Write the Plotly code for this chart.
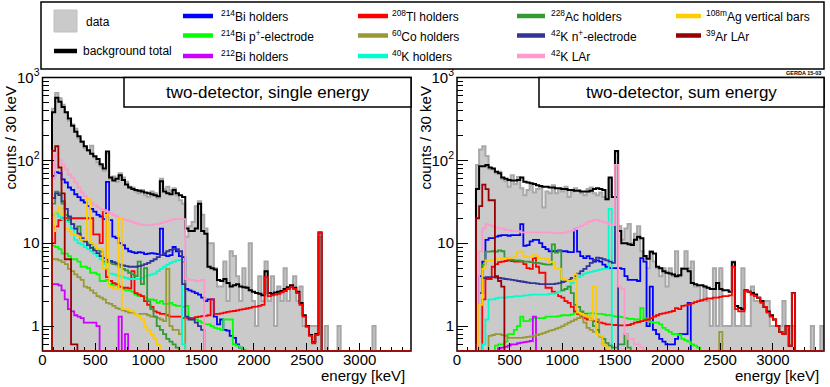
import math
import plotly.graph_objects as go

BIN = 30  # keV per bin

# ---------------- left panel: two-detector, single energy (first bin edge 90 keV)
L_START = 90
l_data = [420, 650, 560, 470, 380, 300, 270, 240, 185, 170,
          140, 130, 150, 108, 95, 85, 75, 120, 60, 64,
          55, 70, 62, 55, 48, 47, 42, 40, 44, 38,
          36, 42, 40, 35, 60, 45, 48, 43, 46, 38,
          33, 30, 12, 16, 18, 28, 32, 22, 15, 10,
          10, 5, 3, 3, 6, 2, 8, 7, 4, 2,
          5, 3, 10, 2, 1, 4, 2, 6, 2, 4,
          1, 3, 2, 5, 2, 3, 4, 2, 3, 1,
          1, 1, 1, 1, 12, 0, 1, 0, 0, 0,
          1, 0, 0, 0, 0, 0, 0, 0, 0, 0,
          0, 1]
l_total = [380, 570, 510, 440, 380, 320, 262, 222, 195, 168,
           148, 132, 120, 112, 104, 90, 80, 128, 62, 57,
           60, 66, 58, 51, 47, 45, 44, 43, 42, 41,
           40, 39, 38, 37, 56, 42, 40, 39, 44, 40,
           38, 36, 15, 14, 14, 15, 30, 14, 13, 5.2,
           5.0, 4.8, 3.6, 3.5, 3.7, 3.3, 3.0, 3.1, 3.2, 3.0,
           2.95, 2.9, 2.7, 2.6, 2.5, 2.45, 2.35, 4.6, 2.5, 2.45,
           2.55, 2.6, 2.65, 2.8, 2.95, 3.1, 2.9, 2.6, 1.9, 1.35,
           1.0, 0.78, 0.64, 0.8, 13.5]
l_bi214_holders = [65, 72, 70, 59, 54, 47, 44, 39, 36, 33,
                   31, 28, 26, 24, 22, 21, 19.5, 55, 19, 12,
                   11.5, 10, 9.5, 8.6, 8, 7.8, 7.6, 7.8, 7.7, 7.4,
                   7.5, 7.6, 7.5, 7.4, 15, 7.2, 7.0, 7.2, 9, 8,
                   7, 6.8, 2.8, 2.7, 2.6, 2.5, 2.4, 2.2, 2.0, 2.1,
                   2.1, 1.3, 1.05, 1.2, 0.9, 0.88, 0.76, 0.72, 0.6, 0.55,
                   0.5]
l_bi214_pplus = [9.3, 9.0, 8.5, 7.5, 7.5, 7.0, 6.4, 6.4, 6.0, 5.2,
                 5.2, 5.0, 4.4, 4.4, 4.2, 3.5, 3.5, 3.6, 3.2, 3.1,
                 3.1, 3.0, 2.8, 2.7, 2.7, 2.6, 2.4, 2.3, 2.3, 2.2,
                 2.1, 2.1, 2.05, 1.9, 2.0, 1.85, 1.85, 1.9, 1.8, 1.75,
                 1.75, 1.7, 1.75, 1.25, 1.2, 1.2, 1.15, 1.1, 1.05, 1.05,
                 1.0, 0.95, 0.93, 0.9, 1.2, 1.2, 1.2, 0.6, 0.58, 0.55,
                 0.52, 0.5]
l_bi212_holders = [3.2, 3.2, 3.1, 2.7, 2.1, 1.6, 1.5, 1.35, 1.3, 1.25,
                   1.1, 1.1, 1.1, 1.1, 1.0, 0, 0, 0, 0, 0,
                   0, 1.3, 0, 0.8]
l_tl208_holders = [10, 16, 19, 20, 20, 20, 20, 20, 20, 20,
                   20, 20, 20, 12.8, 12.8, 10, 25, 3.9, 3.5, 3.3,
                   3.2, 3.0, 2.9, 2.9, 2.85, 4.6, 2.5, 2.4, 2.3, 2.0,
                   1.8, 1.7, 1.5, 1.45, 1.4, 1.4, 1.35, 1.3, 1.3, 1.3,
                   1.3, 1.25, 1.25, 1.25, 1.25, 1.28, 1.3, 1.32, 1.33, 1.35,
                   2.1, 1.4, 1.4, 1.42, 1.45, 1.48, 1.5, 1.52, 1.55, 1.58,
                   1.6, 1.63, 1.66, 1.7, 1.72, 1.75, 1.8, 3.9, 2.3, 2.35,
                   2.4, 2.45, 2.55, 2.65, 2.8, 2.95, 2.8, 2.5, 1.8, 1.3,
                   0.98, 0.76, 0.62, 0.78, 13.5]
l_co60_holders = [6.4, 6.4, 6.2, 5.9, 5.6, 4.9, 4.6, 4.2, 3.9, 3.6,
                  3.0, 2.9, 2.7, 2.5, 2.3, 2.2, 2.1, 1.9, 1.85, 1.75,
                  1.65, 1.6, 1.55, 1.5, 1.45, 1.45, 1.4, 1.4, 1.4, 1.4,
                  1.35, 1.3, 1.3, 1.25, 1.2, 1.15, 4.9, 1.0, 0.9, 0.9,
                  0.8, 5.9, 0.5]
l_k40_holders = [22, 23, 21, 19.5, 19, 18, 15, 11, 10, 9.7,
                 9, 8.5, 8, 7.5, 7, 6.4, 5.6, 4.9, 4.3, 4.2,
                 4.1, 4.0, 3.9, 3.8, 3.7, 3.7, 3.7, 3.7, 3.8, 4.0,
                 4.1, 4.2, 4.3, 4.6, 4.9, 5.2, 5.5, 5.8, 6.0, 6.2,
                 6.3, 0.6]
l_ac228_holders = [30, 42, 40, 30, 22, 19, 17, 15, 16, 11,
                   10.5, 10, 9.7, 8.5, 8.2, 7.9, 6, 5.9, 5.8, 5.6,
                   5.5, 5.2, 4.9, 4.7, 4.4, 4.2, 4.0, 6.0, 3.2, 5.0,
                   2.0, 1.6, 1.3, 1.0, 0.9, 0.8, 0.7, 0.65, 0.6, 0.55,
                   0.5]
l_k42_nplus = [35, 40, 38, 32, 26, 21, 17, 15, 13, 11.5,
               10.5, 9.5, 8.8, 8.2, 7.6, 7.0, 6.6, 6.3, 6.1, 5.9,
               5.7, 5.5, 5.4, 5.3, 5.2, 5.2, 5.2, 5.3, 5.4, 5.6,
               5.8, 6.1, 6.4, 6.8, 7.2, 7.6, 8.0, 8.3, 8.5, 8.5,
               8.0, 3.2, 1.3, 1.2, 1.2, 1.1, 1.0, 0.9]
l_k42_lar = [60, 118, 102, 89, 78, 67, 62, 54, 47, 41,
             37, 34, 31, 29, 27, 26, 25, 24, 23, 22,
             21, 20, 19.5, 19, 18.5, 18, 17.5, 17, 16.5, 16.5,
             16.5, 16.5, 17, 17, 17.5, 18, 18.5, 19, 19.5, 19.5,
             19.5, 19.5, 3.7, 3.6, 3.6, 3.5, 3.5, 3.6]
l_ag108m_bars = [14, 24, 27, 22, 15, 14, 13, 12.5, 12, 11,
                 11, 34, 10, 9.5, 8.5, 8.5, 5, 22, 3.0, 2.9,
                 2.8, 20, 1.6, 1.6, 1.55, 1.5, 1.4, 1.3, 1.2, 1.0,
                 0.9, 0.8, 0.7, 0.6, 0.5]
l_ar39_lar = [130, 148, 82, 40, 6.4, 6.4, 0.6, 0.6]

# ---------------- right panel: two-detector, sum energy (first bin edge 180 keV)
R_START = 180
r_data = [88, 135, 148, 113, 78, 78, 70, 73, 59, 56,
          48, 66, 52, 63, 46, 38, 44, 50, 41, 45,
          47, 27, 42, 40, 50, 40, 45, 42, 48, 36,
          42, 46, 44, 40, 38, 45, 47, 40, 38, 41,
          36, 34, 60, 36, 125, 16, 11, 15, 17, 10,
          13, 16, 8, 7, 5, 8, 6, 5, 4, 5,
          3, 5, 4, 8, 4, 5, 8, 5, 6, 3,
          3, 2, 3, 2, 1, 5, 1, 5, 1, 1,
          1, 6, 1, 1, 5, 1, 1, 3, 2, 2,
          2, 2, 2, 1, 1, 1, 1, 2, 1, 1,
          1, 0, 0, 0, 0, 0, 1, 0, 0, 1]
r_total = [45, 85, 85, 88, 82, 80, 73, 70, 62, 60,
           58, 57, 57, 58, 62, 55, 54, 53, 52, 50,
           49, 48, 48, 47, 47, 46, 46, 45, 45, 44,
           44, 43, 43, 42, 42, 42, 43, 45, 46, 45,
           44, 34, 62, 36, 130, 14, 10, 10, 9.7, 9.5,
           11, 12, 11.5, 7, 6.5, 7.9, 7.5, 5.2, 5.0, 4.6,
           4.4, 4.3, 4.2, 4.0, 4.1, 4.9, 4.9, 4.6, 3.3, 3.2,
           3.1, 3.1, 3.0, 2.9, 2.8, 2.8, 3.3, 2.8, 2.7, 2.7,
           2.6, 5.9, 1.75, 1.65, 1.6, 2.7, 2.6, 2.5, 2.4, 2.2,
           2.0, 1.7, 1.5, 1.35, 1.2, 1.0, 0.85, 0.8, 1.0, 0.58,
           2.5]
r_bi214_holders = [0, 4.0, 6.0, 11, 11.5, 11.5, 12, 12.3, 12.5, 12.5,
                   12.3, 12.5, 12.5, 12.5, 17, 9.3, 9.5, 10.5, 11, 11,
                   10, 9, 8.5, 8, 8, 8, 8.2, 8.0, 8.0, 7.8,
                   7.8, 14.7, 7.9, 7.0, 6.6, 7, 6.5, 6.0, 6.2, 6.0,
                   5.5, 5.2, 5.0, 5.0, 5.0, 5.0, 4.9, 4.0, 3.6, 3.6,
                   3.6, 3.5, 6.6, 6.0, 1.0, 3.0, 0.9, 0.8, 0.7, 0.65,
                   0.6, 0.6, 0.6, 0.7, 0.8, 0.8, 0.8, 1.9]
r_bi214_pplus = [0, 0, 0, 0.3, 0.4, 0.5, 0.58, 0.6, 0.6, 0.65,
                 0.8, 0.8, 0.9, 1.0, 1.3, 1.15, 1.15, 1.2, 1.25, 1.25,
                 1.25, 1.25, 1.3, 1.3, 1.3, 1.3, 1.32, 1.35, 1.35, 1.35,
                 1.38, 1.45, 1.38, 1.4, 1.4, 1.42, 1.42, 1.42, 1.4, 1.4,
                 1.38, 1.35, 1.35, 1.32, 1.3, 1.3, 1.28, 1.25, 1.22, 1.22,
                 1.2, 1.2, 1.65, 1.25, 1.15, 1.12, 1.1, 1.1, 1.05, 0.95,
                 0.9, 0.85, 0.8, 0.8, 0.78, 0.7, 0.67, 0.65, 0.6, 0.58,
                 0.55]
r_bi212_holders = [0, 0, 0, 0, 0, 0, 0, 0.54, 0.55, 0.56,
                   0.58, 0.6, 0.6, 0.62, 0.63, 0.64, 0.65, 0.66, 1.3]
r_tl208_holders = [0, 0, 2.1, 3.7, 3.7, 5.2, 5.6, 5.9, 6.0, 6.1,
                   6.2, 6.1, 6.0, 6.0, 6.0, 5.6, 5.0, 4.9, 6.6, 5.2,
                   4.4, 4.4, 2.9, 2.9, 2.6, 2.5, 2.3, 2.2, 2.0, 1.9,
                   1.7, 1.5, 1.4, 1.3, 1.25, 1.2, 1.2, 1.15, 1.12, 1.1,
                   1.08, 1.05, 1.05, 1.03, 1.03, 1.02, 1.02, 1.02, 1.03, 1.06,
                   1.1, 1.12, 1.15, 1.18, 1.2, 1.25, 1.3, 1.35, 1.4, 1.42,
                   1.45, 1.48, 1.52, 1.65, 1.6, 1.75, 1.78, 1.82, 1.88, 1.95,
                   2.0, 2.05, 2.1, 2.15, 2.15, 2.2, 2.2, 2.25, 2.3, 2.3,
                   2.35, 5.2, 1.6, 1.5, 1.5, 2.7, 2.6, 2.4, 2.3, 2.2,
                   1.9, 1.7, 1.45, 1.3, 1.2, 1.0, 0.85, 0.8, 1.0, 0.58,
                   2.5]
r_co60_holders = [0, 0, 0, 0.5, 0.76, 0.78, 0.8, 0.8, 0.78, 0.76,
                  0.72, 0.72, 0.72, 0.72, 0.72, 0.73, 0.74, 0.75, 0.76, 0.78,
                  0.8, 0.82, 0.85, 0.88, 0.9, 0.93, 0.96, 1.0, 1.05, 1.1,
                  1.15, 1.2, 1.25, 1.45, 1.1, 0.95, 0.9, 0.85, 1.2, 0.75,
                  0.6, 0, 0, 0, 0, 0, 0, 0, 0, 0,
                  0, 0, 0, 0, 0, 0, 0, 0, 0, 0,
                  0, 0, 0, 0, 0, 0, 0, 0, 0, 0,
                  0, 0, 0, 0, 0, 0, 0, 0.85]
r_k40_holders = [0, 0, 0.6, 1.2, 2.1, 2.1, 2.15, 2.2, 2.2, 2.2,
                 2.25, 2.25, 2.3, 2.3, 2.3, 2.35, 2.35, 2.4, 2.4, 2.4,
                 2.4, 2.4, 2.4, 2.45, 2.45, 2.5, 2.6, 2.7, 2.8, 3.0,
                 3.3, 3.7, 3.9, 4.1, 4.3, 4.4, 4.5, 4.6, 4.7, 4.8,
                 4.9, 4.9, 26]
r_ac228_holders = [0, 2.5, 5.5, 7.9, 7.9, 8.0, 7.9, 8.2, 8.0, 6.6,
                   6.4, 6.3, 6.2, 6.2, 6.1, 6.0, 6.0, 5.9, 5.8, 5.8,
                   5.7, 5.6, 5.5, 5.5, 9.7, 7.7, 8.0, 2.7, 2.8, 3.0,
                   2.5, 1.8, 1.7, 1.5, 1.4, 1.3, 1.2, 1.0, 0.9, 0.75,
                   0.7, 0.62, 0.58, 0.55, 0.55, 0.6, 0.6, 0.8, 0.55]
r_k42_nplus = [0, 2.5, 3.8, 3.9, 3.9, 3.9, 3.85, 3.8, 3.75, 3.7,
               3.65, 3.6, 3.55, 3.5, 3.45, 3.4, 3.35, 3.3, 3.3, 3.25,
               3.2, 3.2, 3.2, 3.2, 3.2, 3.25, 3.3, 3.4, 3.5, 3.6,
               3.8, 4.0, 4.3, 4.6, 4.9, 5.3, 5.8, 6.3, 6.7, 6.6,
               6.4, 6.2, 6.0, 5.8, 36]
r_k42_lar = [0.6, 8, 15, 17, 16.5, 16, 15.5, 15, 15, 14.5,
             14.5, 14, 14, 14, 13.5, 13.5, 13.5, 13.5, 13.5, 13.5,
             13.5, 13.5, 13.5, 13.5, 13.3, 13.2, 13.2, 13.3, 13.5, 13.8,
             14.2, 14.8, 15.5, 16.2, 17, 18, 18.5, 19, 19, 18.5,
             18, 17.5, 17, 16.5, 88, 3.0, 2.8, 0.8, 0.7, 0.7,
             0.6, 0.6, 0.55, 0.5]
r_ag108m_bars = [0, 1.8, 4.9, 6.2, 6.2, 6.2, 6.4, 6.5, 6.6, 6.6,
                 6.6, 6.7, 6.8, 7.9, 7.9, 7.0, 6.8, 6.8, 7.2, 7.0,
                 6.6, 6.6, 6.4, 6.0, 5.9, 4.9, 4.9, 3.7, 3.6, 3.5,
                 3.5, 4.2, 1.45, 1.4, 1.35, 1.3, 1.2, 3.0, 0.8, 0.76,
                 0.6, 0.55]
r_ar39_lar = [20, 28, 51, 45, 33, 33, 4, 3.5, 3.0]

# legend entries, in ROOT drawing order
components = [
    ("<sup>214</sup>Bi holders", "#0000ff", l_bi214_holders, r_bi214_holders),
    ("<sup>214</sup>Bi p<sup>+</sup>-electrode", "#00ff00", l_bi214_pplus, r_bi214_pplus),
    ("<sup>212</sup>Bi holders", "#cc00ff", l_bi212_holders, r_bi212_holders),
    ("<sup>208</sup>Tl holders", "#ff0000", l_tl208_holders, r_tl208_holders),
    ("<sup>60</sup>Co holders", "#999933", l_co60_holders, r_co60_holders),
    ("<sup>40</sup>K holders", "#00ffcc", l_k40_holders, r_k40_holders),
    ("<sup>228</sup>Ac holders", "#339933", l_ac228_holders, r_ac228_holders),
    ("<sup>42</sup>K n<sup>+</sup>-electrode", "#333399", l_k42_nplus, r_k42_nplus),
    ("<sup>42</sup>K LAr", "#ff99cc", l_k42_lar, r_k42_lar),
    ("<sup>108m</sup>Ag vertical bars", "#ffcc00", l_ag108m_bars, r_ag108m_bars),
    ("<sup>39</sup>Ar LAr", "#990000", l_ar39_lar, r_ar39_lar),
]

W, H = 830, 387
FONT = "Liberation Sans, Arial, sans-serif"
LOW = 1e-2  # empty bins end up below the 0.5 floor, like ROOT on log scale


def hist_xy(values, start):
    edges = [start + BIN * i for i in range(len(values) + 1)]
    ys = [v if v > 0 else LOW for v in values]
    return [start] + edges, [LOW] + ys + [LOW]


def px(x):  # pixel -> paper
    return x / W


def py(y):
    return 1 - y / H


fig = go.Figure()


def add_hist(values, start, color, width, xa, ya, fill=None):
    x, y = hist_xy(values, start)
    extra = dict(fill="toself", fillcolor=fill) if fill else {}
    fig.add_trace(go.Scatter(x=x, y=y, mode="lines", xaxis=xa, yaxis=ya,
                             line=dict(color=color, width=width, shape="hv"),
                             showlegend=False, hoverinfo="skip", **extra))


for xa, ya, start, data, total, idx in [("x", "y", L_START, l_data, l_total, 2),
                                        ("x2", "y2", R_START, r_data, r_total, 3)]:
    add_hist(data, start, "#a8a8a8", 2, xa, ya, fill="#cacaca")
    add_hist(total, start, "black", 2, xa, ya)
    for name, col, lv, rv in components:
        add_hist(lv if idx == 2 else rv, start, col, 1.8, xa, ya)

minor_y = [v * 10 ** k for k in range(-1, 3) for v in range(2, 10)] + [0.5, 0.6, 0.7, 0.8, 0.9]
xaxis = dict(range=[0, 3485], tickmode="array", tickvals=[0, 500, 1000, 1500, 2000, 2500, 3000],
             ticks="inside", ticklen=8, tickcolor="black", tickwidth=1, automargin=False,
             minor=dict(tickmode="linear", tick0=0, dtick=100, ticks="inside", ticklen=4,
                        tickcolor="black", showgrid=False),
             showgrid=False, zeroline=False, showline=False, ticklabelstandoff=-2,
             tickfont=dict(family=FONT, size=15, color="black"))
yaxis = dict(type="log", range=[math.log10(0.5), 3], tickmode="array", automargin=False,
             tickvals=[1, 10, 100, 1000], ticktext=["1", "10", "10<sup>2</sup>", "10<sup>3</sup>"],
             ticks="inside", ticklen=11, tickcolor="black", tickwidth=1,
             minor=dict(tickmode="array", tickvals=minor_y, ticks="inside", ticklen=6,
                        tickcolor="black", showgrid=False),
             showgrid=False, zeroline=False, showline=False, ticklabelstandoff=2,
             tickfont=dict(family=FONT, size=15, color="black"))

ydom = [py(351), py(77.5)]
fig.update_layout(
    width=W, height=H, margin=dict(l=0, r=0, t=0, b=0, autoexpand=False),
    paper_bgcolor="white", plot_bgcolor="white", showlegend=False,
    xaxis=dict(xaxis, domain=[px(42.5), px(411)], anchor="y"),
    yaxis=dict(yaxis, domain=ydom, anchor="x"),
    xaxis2=dict(xaxis, domain=[px(457), px(824)], anchor="y2"),
    yaxis2=dict(yaxis, domain=ydom, anchor="x2"),
)

shapes = []
annotations = []
for xr, yr in [("x domain", "y domain"), ("x2 domain", "y2 domain")]:
    shapes.append(dict(type="rect", xref=xr, yref=yr, x0=0, x1=1, y0=0, y1=1,
                       line=dict(color="black", width=1.5)))
    shapes.append(dict(type="line", xref=xr, yref=yr, x0=0, x1=1, y0=0, y1=0,
                       line=dict(color="#9a1010", width=2)))

# panel title boxes
for x0, x1, text in [(124, 411, "two-detector, single energy"), (539, 824, "two-detector, sum energy")]:
    shapes.append(dict(type="rect", xref="paper", yref="paper", x0=px(x0), x1=px(x1),
                       y0=py(107), y1=py(77.5), fillcolor="white", line=dict(color="black", width=1.5)))
    annotations.append(dict(text=text, x=px((x0 + x1) / 2), y=py(92), xref="paper", yref="paper",
                            showarrow=False, xanchor="center", yanchor="middle",
                            font=dict(family=FONT, size=17, color="black")))

# axis titles
for xt, xe in [(10, 407), (425, 821)]:
    annotations.append(dict(text="counts / 30 keV", x=px(xt), y=py(138.5), xref="paper", yref="paper",
                            textangle=-90, showarrow=False, xanchor="center", yanchor="middle",
                            font=dict(family=FONT, size=15, color="black")))
    annotations.append(dict(text="energy [keV]", x=px(xe), y=py(375), xref="paper", yref="paper",
                            showarrow=False, xanchor="right", yanchor="middle",
                            font=dict(family=FONT, size=15, color="black")))

annotations.append(dict(text="<b>GERDA 15-03</b>", x=px(823), y=py(73), xref="paper", yref="paper",
                        showarrow=False, xanchor="right", yanchor="middle",
                        font=dict(family=FONT, size=5.5, color="black")))

# legend box
shapes.append(dict(type="rect", xref="paper", yref="paper", x0=px(41), x1=px(824), y0=py(69), y1=py(2),
                   fillcolor="white", line=dict(color="black", width=1.5)))
shapes.append(dict(type="rect", xref="paper", yref="paper", x0=px(54), x1=px(77), y0=py(32), y1=py(10),
                   fillcolor="#cacaca", line=dict(color="#c0c0c0", width=1)))
annotations.append(dict(text="data", x=px(84), y=py(21.5), xref="paper", yref="paper", showarrow=False,
                        xanchor="left", yanchor="middle", font=dict(family=FONT, size=12, color="black")))
shapes.append(dict(type="line", xref="paper", yref="paper", x0=px(54), x1=px(77), y0=py(51), y1=py(51),
                   line=dict(color="black", width=4.5)))
annotations.append(dict(text="background total", x=px(81), y=py(51), xref="paper", yref="paper",
                        showarrow=False, xanchor="left", yanchor="middle",
                        font=dict(family=FONT, size=12, color="black")))

cols = [(183, 213, 219), (358, 388, 390), (517, 545, 549), (676, 701, 704)]
rows = [16, 35.5, 56]
for i, (name, col, _, _) in enumerate(components):
    c, r = divmod(i, 3)
    x0, x1, xt = cols[c]
    y = rows[r]
    shapes.append(dict(type="line", xref="paper", yref="paper", x0=px(x0), x1=px(x1), y0=py(y), y1=py(y),
                       line=dict(color=col, width=4.5)))
    annotations.append(dict(text=name, x=px(xt), y=py(y), xref="paper", yref="paper", showarrow=False,
                            xanchor="left", yanchor="middle", font=dict(family=FONT, size=12, color="black")))

fig.update_layout(shapes=shapes, annotations=annotations)
# the page's default 8px body margin would push the figure out of the 830x387 window
fig.write_html("out.html", config={"displayModeBar": False},
               post_script="document.body.style.margin='0';document.body.style.overflow='hidden';")
